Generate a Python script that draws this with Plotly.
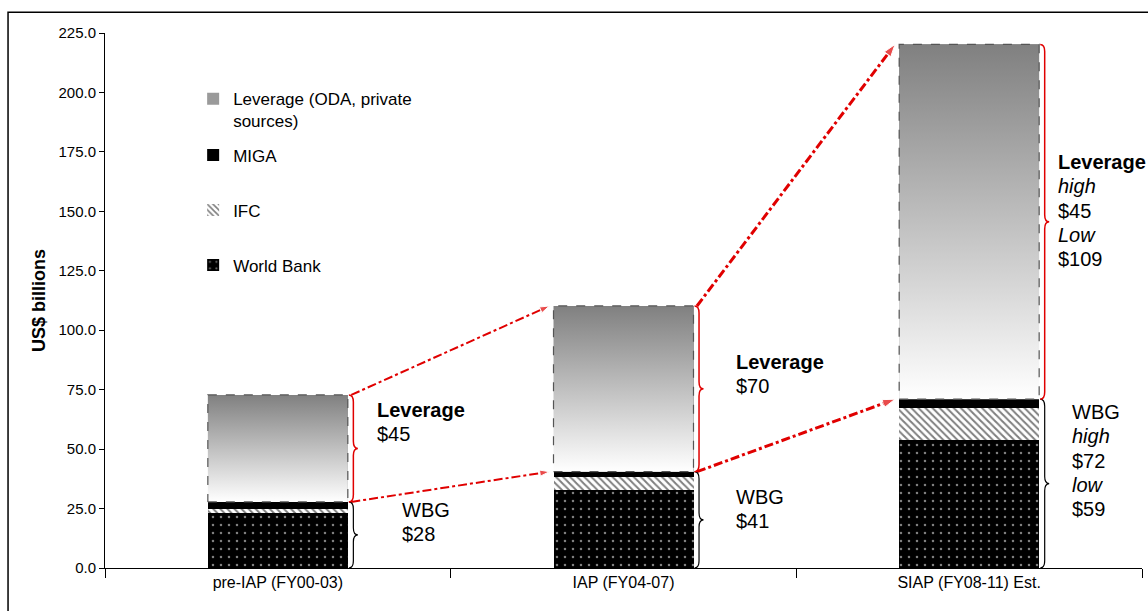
import plotly.graph_objects as go

categories = ["pre-IAP (FY00-03)", "IAP (FY04-07)", "SIAP (FY08-11) Est."]
world_bank = [23.3, 33.0, 53.8]
ifc = [1.5, 5.3, 13.3]
miga = [3.0, 2.2, 3.9]
leverage = [45.0, 69.7, 149.2]

lev_labels = [["<b>Leverage</b>", "$45"],
              ["<b>Leverage</b>", "$70"],
              ["<b>Leverage</b>", "<i>high</i>", "$45", "<i>Low</i>", "$109"]]
wbg_labels = [["WBG", "$28"],
              ["WBG", "$41"],
              ["WBG", "<i>high</i>", "$72", "<i>low</i>", "$59"]]

x = list(range(len(categories)))
BW = 0.405
HALF = BW / 2
FONT = "Arial, Liberation Sans, sans-serif"

wbg_tot = [a + b + c for a, b, c in zip(world_bank, ifc, miga)]
tops = [w + l for w, l in zip(wbg_tot, leverage)]

fig = go.Figure()
fig.add_bar(x=x, y=world_bank, name="World Bank", width=BW, legend="legend2",
            legendgroup="wb", legendrank=3,
            marker=dict(color="black", line=dict(width=0),
                        pattern=dict(shape=".", fgcolor="white", bgcolor="black",
                                     size=8, solidity=0.08)))
fig.add_bar(x=x, y=ifc, name="IFC", width=BW, legend="legend2", legendgroup="ifc",
            legendrank=2,
            marker=dict(color="white", line=dict(width=0),
                        pattern=dict(shape="\\", fgcolor="black", bgcolor="white",
                                     size=5, solidity=0.4)))
fig.add_bar(x=x, y=miga, name="MIGA", width=BW, legend="legend2", legendgroup="miga",
            legendrank=1,
            marker=dict(color="black", line=dict(width=0)))
fig.add_bar(x=x, y=leverage, name="Leverage (ODA, private<br>sources)", width=BW,
            legend="legend", legendgroup="lev",
            marker=dict(color="#9a9a9a", line=dict(width=0)))

# gradient fill + dashed outline over the leverage segments
for i in x:
    x0, x1 = i - HALF, i + HALF
    b, t = wbg_tot[i], tops[i]
    fig.add_scatter(x=[x0, x1, x1, x0, x0], y=[b, b, t, t, b], mode="lines",
                    fill="toself",
                    fillgradient=dict(type="vertical", start=b, stop=t,
                                      colorscale=[[0, "#ffffff"], [1, "#808080"]]),
                    line=dict(color="#555555", width=1.2, dash="dash"),
                    showlegend=False, hoverinfo="skip")

# red dash-dot arrows between bars
for i in range(len(x) - 1):
    lw = 2 if i == 0 else 3
    for ys, ye in ((tops[i], tops[i + 1]), (wbg_tot[i], wbg_tot[i + 1])):
        fig.add_scatter(x=[i + HALF + 0.01, i + 1 - HALF - 0.012], y=[ys, ye],
                        mode="lines+markers",
                        line=dict(color="#e00000", width=lw, dash="dashdot"),
                        marker=dict(symbol="arrow", angleref="previous",
                                    size=[0, 10 if i == 0 else 13], color="#e00000"),
                        showlegend=False, hoverinfo="skip")

# braces
def brace(xl, y0, y1, w=0.026):
    xm = xl + w / 2
    xt = xl + w
    ym = (y0 + y1) / 2
    r = min(3.0, (y1 - y0) / 6)
    return (f"M {xl},{y0} Q {xm},{y0} {xm},{y0 + r} L {xm},{ym - r} "
            f"Q {xm},{ym} {xt},{ym} Q {xm},{ym} {xm},{ym + r} "
            f"L {xm},{y1 - r} Q {xm},{y1} {xl},{y1}")

shapes = []
for i in x:
    xl = i + HALF + 0.003
    shapes.append(dict(type="path", path=brace(xl, 0, wbg_tot[i]),
                       line=dict(color="black", width=1.2)))
    shapes.append(dict(type="path", path=brace(xl, wbg_tot[i], tops[i]),
                       line=dict(color="#e00000", width=1.5)))

# outer frame
shapes.append(dict(type="rect", xref="paper", yref="paper",
                   x0=-0.0935, x1=1.2, y0=-0.3, y1=1.039,
                   line=dict(color="black", width=1.5)))

annotations = []
lev_pos = [(0.280, 66.4), (1.321, 86.6), (2.251, 170.7)]
wbg_pos = [(0.353, 24.4), (1.321, 29.9), (2.292, 65.6)]
for labels, pos in ((lev_labels, lev_pos), (wbg_labels, wbg_pos)):
    for lines, (ax_, ay_) in zip(labels, pos):
        for k, txt in enumerate(lines):
            annotations.append(dict(x=ax_, y=ay_ - k * 10.2, text=txt,
                                    showarrow=False, xanchor="left", yanchor="middle",
                                    font=dict(family=FONT, size=20, color="black")))

leg_common = dict(xanchor="left", yanchor="top", valign="top",
                  bgcolor="rgba(0,0,0,0)", font=dict(family=FONT, size=17),
                  itemwidth=30)
fig.update_layout(
    barmode="stack",
    width=1148, height=611,
    margin=dict(l=105, r=6, t=33, b=43),
    paper_bgcolor="white", plot_bgcolor="white",
    font=dict(family=FONT, size=13, color="black"),
    showlegend=True,
    legend=dict(x=0.085, y=0.91, **leg_common),
    legend2=dict(x=0.085, y=0.805, traceorder="grouped", tracegroupgap=30,
                 **leg_common),
    shapes=shapes,
    annotations=annotations,
    hovermode=False,
)
fig.update_xaxes(range=[-0.5, 2.5], tickvals=x, ticktext=categories,
                 ticks="", showline=True, linecolor="black", linewidth=1,
                 showgrid=False, zeroline=False,
                 tickfont=dict(size=16),
                 minor=dict(tickmode="array", tickvals=[-0.5, 0.5, 1.5, 2.5],
                            ticks="outside", ticklen=9, tickcolor="black"))
fig.update_yaxes(range=[0, 225], dtick=25, tickformat=".1f",
                 ticks="outside", ticklen=5, tickcolor="black",
                 showline=True, linecolor="black", linewidth=1,
                 showgrid=False, zeroline=False, tickfont=dict(size=15),
                 title=dict(text="<b>US$ billions</b>", font=dict(size=18), standoff=8))

fig.write_html("out.html", config={"displayModeBar": False})
